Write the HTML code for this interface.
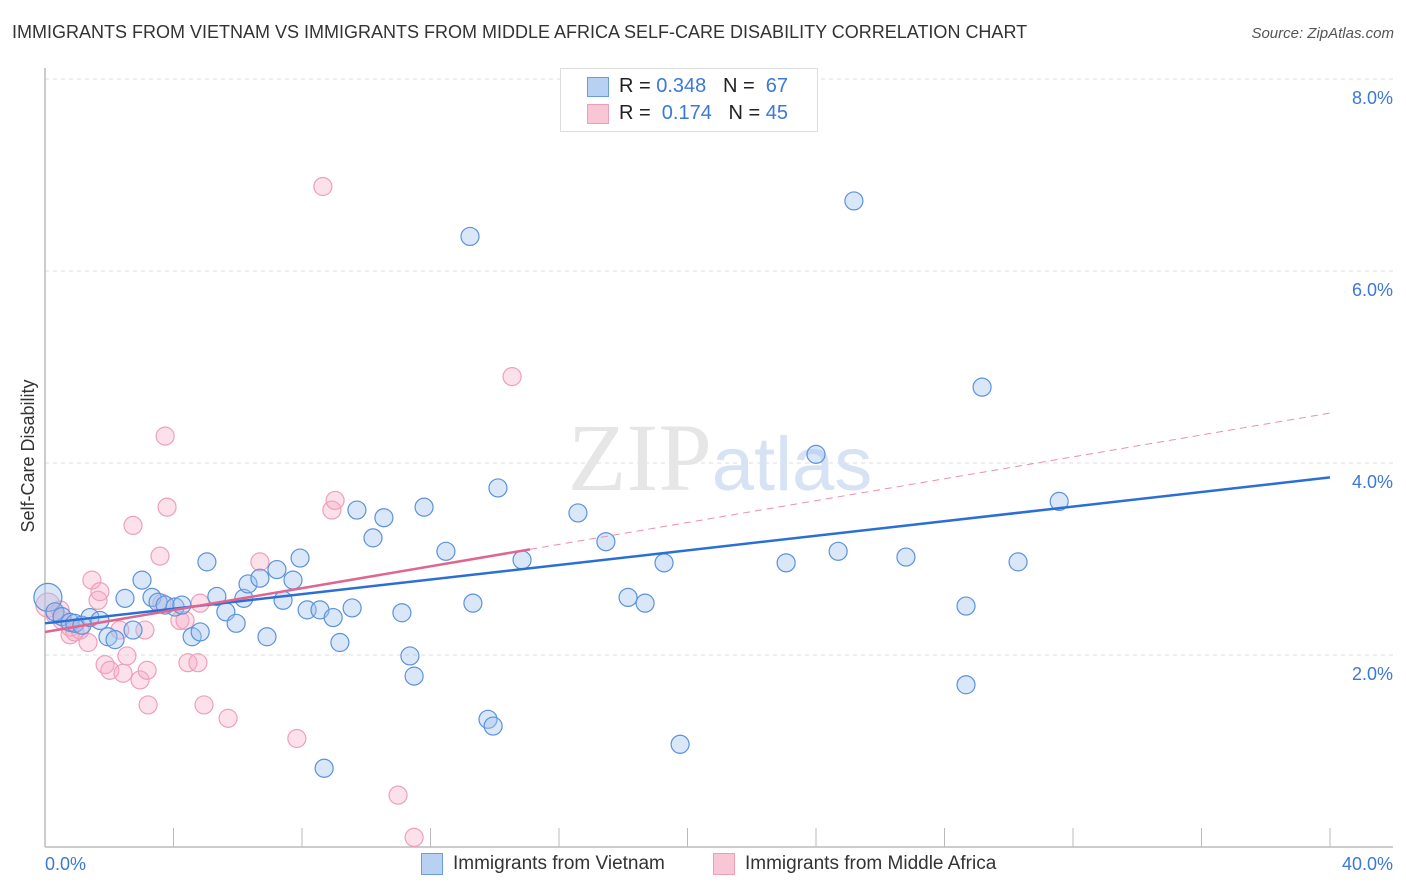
<!DOCTYPE html>
<html><head><meta charset="utf-8"><style>
body{margin:0;background:#fff;font-family:"Liberation Sans",sans-serif}
#wrap{position:relative;width:1406px;height:892px;overflow:hidden}
.t{position:absolute;white-space:nowrap}
</style></head><body><div id="wrap">
<div class="t" style="left:12px;top:22px;font-size:18px;color:#333">IMMIGRANTS FROM VIETNAM VS IMMIGRANTS FROM MIDDLE AFRICA SELF-CARE DISABILITY CORRELATION CHART</div>
<div class="t" style="right:12px;top:25px;font-size:15px;color:#555;font-style:italic">Source: ZipAtlas.com</div>
<svg id="svg" width="1406" height="892" style="position:absolute;left:0;top:0"></svg>
</div>
<script>
const yTicks=[2,4,6,8];
const yTickLabels=["2.0%","4.0%","6.0%","8.0%"];
const xTickLabels=["0.0%","40.0%"];
const vietX=[0.09,0.31,0.53,0.78,0.93,1.15,1.40,1.71,1.96,2.18,2.49,2.74,3.02,3.33,3.52,3.74,4.05,4.26,4.58,4.83,5.04,5.35,5.63,5.95,6.19,6.32,6.69,6.91,7.22,7.41,7.72,7.94,8.16,8.56,8.97,9.18,9.56,9.71,10.21,10.55,11.11,11.36,11.49,11.80,12.48,13.23,13.32,13.79,13.95,14.10,14.85,16.59,17.46,18.15,18.68,19.27,19.77,23.07,24.00,24.69,25.18,26.80,28.67,28.67,29.17,30.29,31.57,8.69];
const vietY=[2.60,2.45,2.40,2.34,2.33,2.31,2.39,2.36,2.19,2.16,2.59,2.26,2.78,2.60,2.55,2.52,2.50,2.52,2.19,2.24,2.97,2.61,2.45,2.33,2.59,2.74,2.80,2.19,2.89,2.57,2.78,3.01,2.47,2.47,2.39,2.13,2.49,3.51,3.22,3.43,2.44,1.99,1.78,3.54,3.08,6.36,2.54,1.33,1.26,3.74,2.99,3.48,3.18,2.60,2.54,2.96,1.07,2.96,4.09,3.08,6.73,3.02,2.51,1.69,4.79,2.97,3.60,0.82];
const afrX=[0.09,0.31,0.53,0.47,0.78,0.78,0.93,1.09,1.34,1.46,1.65,1.71,1.87,2.02,2.33,2.43,2.55,2.74,2.96,3.11,3.18,3.21,3.58,3.64,3.74,3.80,4.20,4.36,4.45,4.76,4.83,4.95,5.70,6.69,7.84,8.65,8.93,9.03,10.99,11.49,14.54];
const afrY=[2.52,2.42,2.36,2.47,2.21,2.29,2.24,2.26,2.13,2.78,2.57,2.66,1.90,1.84,2.26,1.81,1.99,3.35,1.74,2.26,1.84,1.48,3.03,2.54,4.28,3.54,2.36,2.36,1.92,1.92,2.54,1.48,1.34,2.97,1.13,6.88,3.51,3.61,0.54,0.10,4.90];
const vietTrend=[2.33,3.85];
const afrTrend=[2.24,4.52];
const afrSolidEnd=15.1;
const X=v=>45+v/40*1285, Y=v=>847-v*96;
const svg=document.getElementById('svg');const NS='http://www.w3.org/2000/svg';
function mk(tag,a,p){const e=document.createElementNS(NS,tag);for(const k in a)e.setAttribute(k,a[k]);(p||svg).appendChild(e);return e;}
yTicks.forEach((t,i)=>{
 const g=mk('line',{x1:45,x2:1393,y1:Y(t),y2:Y(t),stroke:'#ddd','stroke-dasharray':'4,4'});
 
 
 const l=mk('text',{x:1393,y:Y(t)+25,'text-anchor':'end','font-size':18,fill:'#3b78d8','font-family':'Liberation Sans'});l.textContent=yTickLabels[i];
 
 
});
const ax=mk('line',{x1:45,x2:45,y1:68,y2:847,stroke:'#bbb','stroke-width':1.5});


const xa=mk('line',{x1:45,x2:1393,y1:847,y2:847,stroke:'#bbb','stroke-width':1.5});


for(let i=1;i<=10;i++){const tk=mk('line',{x1:X(i*4),x2:X(i*4),y1:828,y2:847,stroke:'#bbb'});
 
 }
[[0,'start'],[40,'end']].forEach((p,i)=>{const t=mk('text',{x:i?1393:45,y:870,'text-anchor':p[1],'font-size':18,fill:'#3b78d8','font-family':'Liberation Sans'});t.textContent=xTickLabels[i];
 
 });
const yt=mk('text',{x:34,y:456,'text-anchor':'middle','font-size':18,fill:'#333',transform:'rotate(-90 34 456)','font-family':'Liberation Sans'});yt.textContent='Self-Care Disability';


const wm=mk('text',{x:720,y:490,'text-anchor':'middle','font-size':96,fill:'#e6e6e6','font-family':'Liberation Serif'});wm.innerHTML='ZIP<tspan fill="#d7e3f4" font-family="Liberation Sans" font-size="76">atlas</tspan>';


afrX.forEach((x,i)=>{const c=mk('circle',{cx:X(x),cy:Y(afrY[i]),r:i==0?12:9,fill:'rgba(246,170,195,0.35)',stroke:'#eea0b8','stroke-width':1.2});
 
 });
vietX.forEach((x,i)=>{const c=mk('circle',{cx:X(x),cy:Y(vietY[i]),r:i==0?14:9,fill:'rgba(160,195,240,0.4)',stroke:'#5b92dc','stroke-width':1.2});
 
 });
const at=v=>afrTrend[0]+(afrTrend[1]-afrTrend[0])*v/40;
const l1=mk('line',{x1:X(0),y1:Y(vietTrend[0]),x2:X(40),y2:Y(vietTrend[1]),stroke:'#2a6fd6','stroke-width':2.5});


const l2=mk('line',{x1:X(0),y1:Y(at(0)),x2:X(afrSolidEnd),y2:Y(at(afrSolidEnd)),stroke:'#e0658f','stroke-width':2.5});


const l3=mk('line',{x1:X(afrSolidEnd),y1:Y(at(afrSolidEnd)),x2:X(40),y2:Y(at(40)),stroke:'#e891ad','stroke-width':1,'stroke-dasharray':'7,5'});


</script>
<div class="t" style="left:560px;top:68px;width:256px;height:62px;border:1px solid #ddd;background:#fff">
 <div style="position:absolute;left:26px;top:8px;width:20px;height:18px;background:#b8d1f3;border:1px solid #6a9be0"></div>
 <div style="position:absolute;left:26px;top:35px;width:20px;height:18px;background:#f9c6d5;border:1px solid #eea0b8"></div>
 <div class="t" style="left:58px;top:6px;font-size:20px;color:#222">R = <span style="color:#3b78d8">0.348</span>&nbsp;&nbsp;&nbsp;N = &nbsp;<span style="color:#3b78d8">67</span></div>
 <div class="t" style="left:58px;top:33px;font-size:20px;color:#222">R = &nbsp;<span style="color:#3b78d8">0.174</span>&nbsp;&nbsp;&nbsp;N = <span style="color:#3b78d8">45</span></div>
</div>
<div class="t" style="left:421px;top:853px;width:20px;height:20px;background:#b8d1f3;border:1px solid #6a9be0"></div>
<div class="t" style="left:453px;top:853px;font-size:19px;color:#333">Immigrants from Vietnam</div>
<div class="t" style="left:713px;top:853px;width:20px;height:20px;background:#f9c6d5;border:1px solid #eea0b8"></div>
<div class="t" style="left:745px;top:853px;font-size:19px;color:#333">Immigrants from Middle Africa</div>
</body></html>
